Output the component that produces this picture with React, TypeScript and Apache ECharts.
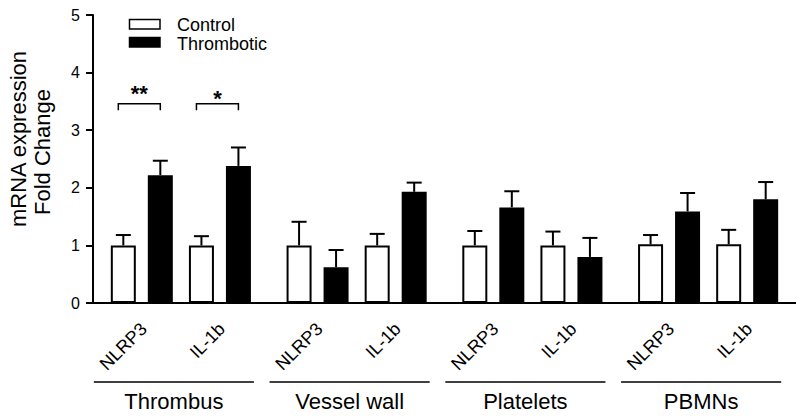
import React, { useEffect, useRef } from "react";
import * as echarts from "echarts";

// ---------------- data ----------------
const groups = ["Thrombus", "Vessel wall", "Platelets", "PBMNs"];
const genes = ["NLRP3", "IL-1b"];
const seriesNames = ["Control", "Thrombotic"];
// order: Thrombus NLRP3, Thrombus IL-1b, Vessel NLRP3, Vessel IL-1b, Platelets NLRP3, Platelets IL-1b, PBMNs NLRP3, PBMNs IL-1b
const controlMean = [1.0, 1.0, 1.0, 1.0, 1.0, 1.0, 1.02, 1.02];
const controlSem = [0.18, 0.16, 0.41, 0.2, 0.25, 0.24, 0.16, 0.25];
const thromboticMean = [2.22, 2.38, 0.62, 1.93, 1.66, 0.8, 1.59, 1.8];
const thromboticSem = [0.25, 0.32, 0.3, 0.16, 0.28, 0.33, 0.32, 0.3];
const sigBars = [0, 1];
const sigLabels = ["**", "*"];
const sigLevel = [3.46, 3.46];
const yTitleLines = ["mRNA expression", "Fold Change"];

// ---------------- layout ----------------
const SLOT_COUNT = 36;
const barSlots = [2, 6, 11, 15, 20, 24, 29, 33];
const BAR_OFFSET = 18.5;
const FONT = "'Liberation Sans', Arial, Helvetica, sans-serif";
const sigTextOffset = [10, 5];

const slots: string[] = [];
for (let i = 0; i < SLOT_COUNT; i++) {
  const k = barSlots.indexOf(i);
  if (k >= 0) {
    slots.push(groups[Math.floor(k / 2)] + "|" + genes[k % 2]);
  } else {
    slots.push("gap" + i);
  }
}

const slotData = (vals: number[]) =>
  slots.map((_, i) => {
    const k = barSlots.indexOf(i);
    return k >= 0 ? vals[k] : "-";
  });

const isGene = (_i: number, v: string) => String(v).indexOf("|") >= 0;

const errorSeries = (name: string, means: number[], sems: number[], offset: number) => ({
  type: "custom",
  name,
  z: 5,
  encode: { x: 0, y: 1 },
  data: barSlots.map((s, k) => [s, means[k], sems[k]]),
  renderItem: (_params: any, api: any) => {
    const slot = api.value(0);
    const m = api.value(1);
    const e = api.value(2);
    const base = api.coord([slot, m]);
    const top = api.coord([slot, m + e]);
    const x = base[0] + offset;
    return {
      type: "group",
      children: [
        { type: "line", shape: { x1: x, y1: base[1], x2: x, y2: top[1] }, style: { stroke: "#000", lineWidth: 2 } },
        { type: "line", shape: { x1: x - 7.5, y1: top[1], x2: x + 7.5, y2: top[1] }, style: { stroke: "#000", lineWidth: 2 } },
      ],
    };
  },
});

export default function App() {
  const ref = useRef<HTMLDivElement>(null);
  useEffect(() => {
    if (!ref.current) return;
    const chart = echarts.init(ref.current, undefined, { renderer: "svg" });
    const baseGraphic: any[] = [];
    seriesNames.forEach((n, i) => {
      baseGraphic.push({
        type: "rect",
        shape: { x: 129.5, y: 19.5 + i * 18, width: 30.5, height: 9.5 },
        style: { fill: i === 0 ? "#fff" : "#000", stroke: "#000", lineWidth: 1.5 },
      });
      baseGraphic.push({
        type: "text",
        x: 177,
        y: 24.5 + i * 19,
        style: { text: n, fontSize: 18, fill: "#000", align: "left", verticalAlign: "middle", fontFamily: FONT },
      });
    });
    baseGraphic.push(
      {
        type: "text",
        x: 18,
        y: 139,
        rotation: Math.PI / 2,
        style: { text: yTitleLines[0], fontSize: 22, fill: "#000", align: "center", verticalAlign: "middle", fontFamily: FONT },
      },
      {
        type: "text",
        x: 42,
        y: 152,
        rotation: Math.PI / 2,
        style: { text: yTitleLines[1], fontSize: 22, fill: "#000", align: "center", verticalAlign: "middle", fontFamily: FONT },
      }
    );
    const option: any = {
      animation: false,
      textStyle: { fontFamily: FONT, color: "#000" },
      grid: { left: 93, right: -8, top: 15, bottom: 113 },
      xAxis: {
        type: "category",
        data: slots,
        boundaryGap: true,
        axisLine: { lineStyle: { color: "#000", width: 2 } },
        axisTick: { alignWithLabel: true, interval: isGene, length: 7, lineStyle: { color: "#000", width: 2 } },
        axisLabel: { show: false },
        splitLine: { show: false },
      },
      yAxis: {
        type: "value",
        min: 0,
        max: 5,
        interval: 1,
        axisLine: { show: true, lineStyle: { color: "#000", width: 2 } },
        axisTick: { show: true, length: 7, lineStyle: { color: "#000", width: 2 } },
        axisLabel: { fontSize: 16, color: "#000", margin: 13, fontFamily: FONT },
        splitLine: { show: false },
      },
      graphic: { elements: baseGraphic },
      series: [
        {
          type: "bar",
          name: seriesNames[0],
          data: slotData(controlMean),
          barWidth: 25,
          barGap: "48%",
          itemStyle: { color: "#fff", borderColor: "#000", borderWidth: 2 },
        },
        {
          type: "bar",
          name: seriesNames[1],
          data: slotData(thromboticMean),
          barWidth: 25,
          itemStyle: { color: "#000", borderColor: "#000", borderWidth: 2 },
        },
        errorSeries("ControlErr", controlMean, controlSem, -BAR_OFFSET),
        errorSeries("ThromboticErr", thromboticMean, thromboticSem, BAR_OFFSET),
        {
          type: "custom",
          name: "sig",
          encode: { x: 0, y: 1 },
          data: sigBars.map((k, i) => [barSlots[k], sigLevel[i], i]),
          renderItem: (_p: any, api: any) => {
            const p = api.coord([api.value(0), api.value(1)]);
            const idx = api.value(2);
            const cx = p[0] - 2.5;
            const y = p[1];
            return {
              type: "group",
              children: [
                {
                  type: "polyline",
                  shape: { points: [[cx - 21, y + 6.5], [cx - 21, y], [cx + 21, y], [cx + 21, y + 6.5]] },
                  style: { stroke: "#000", lineWidth: 1.5, fill: "none" },
                },
                {
                  type: "text",
                  x: cx,
                  y: y - sigTextOffset[idx],
                  style: { text: sigLabels[idx], fontSize: 22, fontWeight: "bold", fill: "#000", align: "center", verticalAlign: "middle", fontFamily: FONT },
                },
              ],
            };
          },
        },
        {
          type: "custom",
          name: "groups",
          encode: { x: 0, y: 1 },
          data: groups.map((_, i) => [barSlots[2 * i], 0, barSlots[2 * i + 1], i]),
          renderItem: (_p: any, api: any) => {
            const a = api.coord([api.value(0), 0]);
            const b = api.coord([api.value(2), 0]);
            const idx = api.value(3);
            const x1 = a[0] - 48;
            const x2 = b[0] + 34;
            const y = a[1] + 79;
            return {
              type: "group",
              children: [
                { type: "line", shape: { x1, y1: y, x2, y2: y }, style: { stroke: "#000", lineWidth: 1.5 } },
                {
                  type: "text",
                  x: (x1 + x2) / 2,
                  y: y + 19,
                  style: { text: groups[idx], fontSize: 22, fill: "#000", align: "center", verticalAlign: "middle", fontFamily: FONT },
                },
              ],
            };
          },
        },
      ],
    };
    chart.setOption(option);
    // gene labels rotated 45°, positioned through the category axis scale
    const geneLabels = barSlots.map((s, k) => {
      const p = chart.convertToPixel({ gridIndex: 0 }, [s, 0]) as number[];
      return {
        type: "group",
        x: p[0] + 2,
        y: p[1] + 23,
        rotation: Math.PI / 4,
        children: [
          {
            type: "text",
            style: { text: genes[k % 2], fontSize: 18, fill: "#000", align: "right", verticalAlign: "middle", fontFamily: FONT },
          },
        ],
      };
    });
    chart.setOption({ graphic: { elements: [...baseGraphic, ...geneLabels] } });
    return () => chart.dispose();
  }, []);
  return <div ref={ref} style={{ position: "fixed", left: 0, top: 0, width: 796, height: 416, background: "#fff" }} />;
}
